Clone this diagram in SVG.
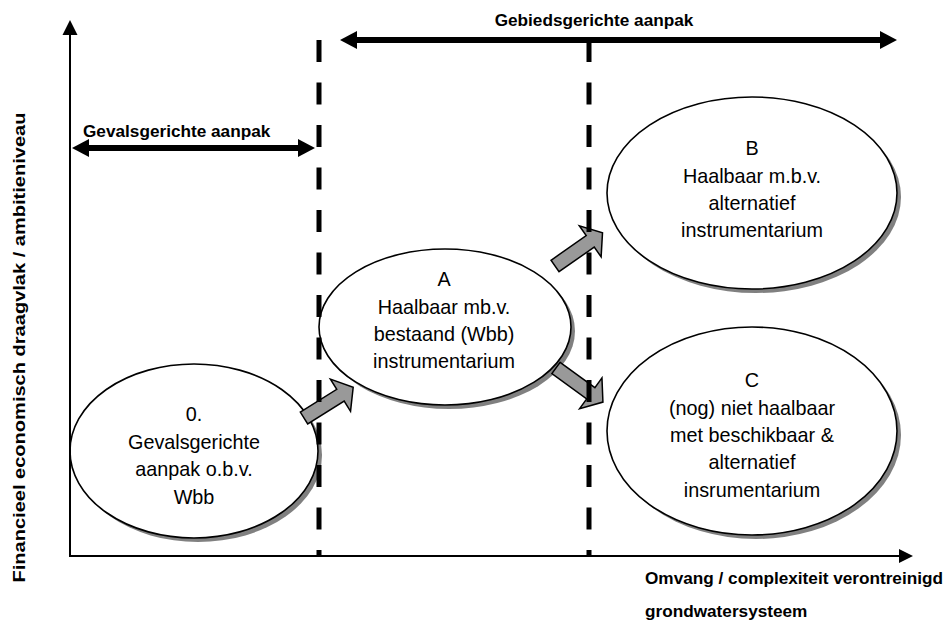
<svg xmlns="http://www.w3.org/2000/svg" width="951" height="626" viewBox="0 0 951 626">
  <style>
    .lbl { font-family: "Liberation Sans", Arial, sans-serif; font-weight: bold; font-size: 17.2px; fill: #000; }
    .ntx { font-family: "Liberation Sans", Arial, sans-serif; font-size: 19.8px; fill: #000; text-anchor: middle; }
    .oval { fill: #fff; stroke: #000; stroke-width: 1.6; }
    .shadow { fill: #808080; }
    .block { fill: #999; stroke: #000; stroke-width: 1.5; stroke-linejoin: miter; }
    .dash { stroke: #000; stroke-width: 5; stroke-dasharray: 22 20.5; fill: none; }
    .axis { stroke: #000; stroke-width: 2; fill: none; }
    .bar { stroke: #000; stroke-width: 6; fill: none; }
  </style>
  <defs>
    <!-- grey block arrow, pointing along +x from its tail centre -->
    <polygon id="blockArrow" class="block" points="0,-7 43,-7 43,-19 58,0 43,19 43,7 0,7"/>
  </defs>
  <rect width="951" height="626" fill="#fff"/>

  <!-- nodes -->
  <g id="node-0">
    <ellipse class="shadow" cx="198" cy="455" rx="124" ry="87"/>
    <ellipse class="oval" cx="194" cy="451" rx="124" ry="87"/>
    <text class="ntx" x="194" y="421">0.</text>
    <text class="ntx" x="194" y="449">Gevalsgerichte</text>
    <text class="ntx" x="194" y="476">aanpak o.b.v.</text>
    <text class="ntx" x="194" y="504">Wbb</text>
  </g>
  <g id="node-A">
    <ellipse class="shadow" cx="449" cy="331" rx="126" ry="78"/>
    <ellipse class="oval" cx="445" cy="327" rx="126" ry="78"/>
    <text class="ntx" x="444" y="286">A</text>
    <text class="ntx" x="444" y="314">Haalbaar mb.v.</text>
    <text class="ntx" x="444" y="341">bestaand (Wbb)</text>
    <text class="ntx" x="444" y="368">instrumentarium</text>
  </g>
  <g id="node-B">
    <ellipse class="shadow" cx="756" cy="197" rx="145" ry="96"/>
    <ellipse class="oval" cx="752" cy="193" rx="145" ry="96"/>
    <text class="ntx" x="752" y="155">B</text>
    <text class="ntx" x="752" y="183">Haalbaar m.b.v.</text>
    <text class="ntx" x="752" y="210">alternatief</text>
    <text class="ntx" x="752" y="237">instrumentarium</text>
  </g>
  <g id="node-C">
    <ellipse class="shadow" cx="756" cy="435" rx="145" ry="104"/>
    <ellipse class="oval" cx="752" cy="431" rx="145" ry="104"/>
    <text class="ntx" x="752" y="387">C</text>
    <text class="ntx" x="752" y="415">(nog) niet haalbaar</text>
    <text class="ntx" x="752" y="442">met beschikbaar &amp;</text>
    <text class="ntx" x="752" y="469">alternatief</text>
    <text class="ntx" x="752" y="497">insrumentarium</text>
  </g>

  <!-- connectors -->
  <g id="connectors">
    <use href="#blockArrow" transform="translate(304,418) rotate(-32)"/>
    <use href="#blockArrow" transform="translate(555,266) rotate(-35)"/>
    <use href="#blockArrow" transform="translate(556,368) rotate(36)"/>
  </g>

  <!-- axes -->
  <g id="axes">
    <line class="axis" x1="70" y1="557" x2="70" y2="33"/>
    <polygon points="70,20 62.5,35 77.5,35" fill="#000"/>
    <line class="axis" x1="69" y1="556" x2="900" y2="556"/>
    <polygon points="913,556 899,549 899,563" fill="#000"/>
  </g>

  <!-- phase boundaries -->
  <g id="boundaries">
    <line class="dash" x1="319" y1="40" x2="319" y2="556"/>
    <line class="dash" x1="589" y1="40" x2="589" y2="556"/>
  </g>

  <!-- approach ranges -->
  <g id="range-gevals">
    <line class="bar" x1="88" y1="148" x2="299" y2="148"/>
    <polygon points="72,148 89,139 89,157" fill="#000"/>
    <polygon points="315,148 298,139 298,157" fill="#000"/>
    <text class="lbl" x="83" y="137">Gevalsgerichte aanpak</text>
  </g>
  <g id="range-gebieds">
    <line class="bar" x1="356" y1="40" x2="881" y2="40"/>
    <polygon points="340,40 357,31 357,49" fill="#000"/>
    <polygon points="897,40 880,31 880,49" fill="#000"/>
    <text class="lbl" x="594" y="26" text-anchor="middle">Gebiedsgerichte aanpak</text>
  </g>

  <!-- axis titles -->
  <text class="lbl" x="645" y="584">Omvang / complexiteit verontreinigd</text>
  <text class="lbl" x="645" y="617">grondwatersysteem</text>
  <text class="lbl" transform="translate(25,347.5) rotate(-90)" text-anchor="middle" font-size="18" textLength="470" lengthAdjust="spacingAndGlyphs">Financieel economisch draagvlak / ambitieniveau</text>
</svg>
